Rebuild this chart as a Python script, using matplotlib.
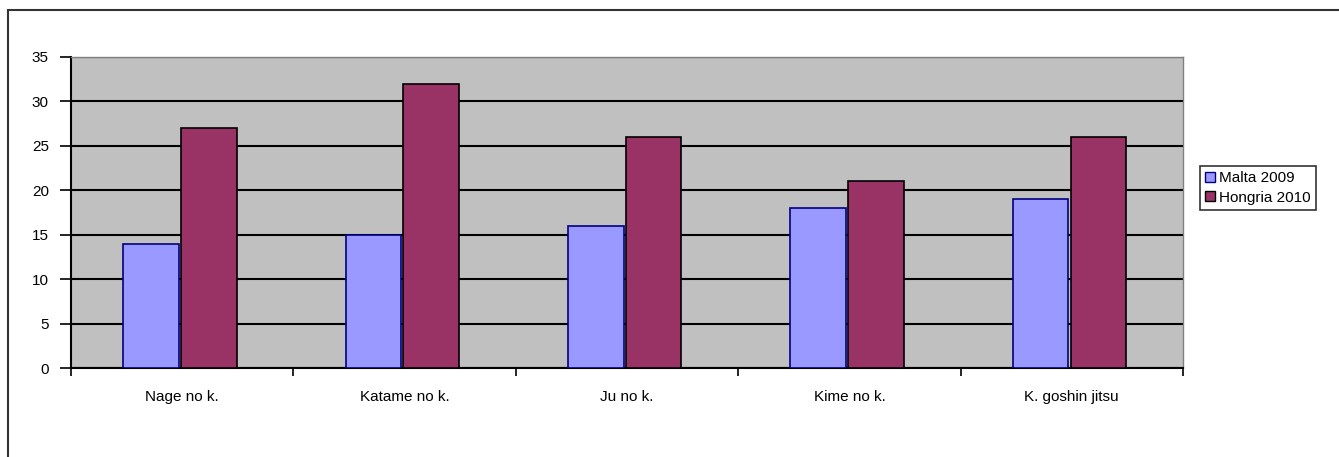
import matplotlib
matplotlib.use("Agg")
import matplotlib.pyplot as plt
import numpy as np
from matplotlib.patches import Rectangle, Patch

categories = ["Nage no k.", "Katame no k.", "Ju no k.", "Kime no k.", "K. goshin jitsu"]
malta_2009 = [14, 15, 16, 18, 19]
hongria_2010 = [27, 32, 26, 21, 26]
series_names = ["Malta 2009", "Hongria 2010"]
y_ticks = [0, 5, 10, 15, 20, 25, 30, 35]

plt.rcParams['font.family'] = ['Liberation Sans', 'DejaVu Sans']

fig = plt.figure(figsize=(13.39, 4.57), dpi=100)
fig.patch.set_facecolor('white')
# outer chart border
fig.patches.append(Rectangle((8/1339, -0.05), 1.2, 1 - 10/457 + 0.05,
                             transform=fig.transFigure, fill=False,
                             edgecolor='#333333', linewidth=1.5, zorder=0))

ax = fig.add_axes([71/1339, 1 - 368/457, (1183 - 71)/1339, (368 - 57)/457])
ax.set_facecolor('#C0C0C0')

x = np.arange(len(categories))
w = 0.25
ax.bar(x - 0.14, malta_2009, width=w, color='#9999FF', edgecolor='#000080',
       linewidth=1.2, zorder=3, label=series_names[0])
ax.bar(x + 0.12, hongria_2010, width=w, color='#993366', edgecolor='#000000',
       linewidth=1.2, zorder=3, label=series_names[1])

ax.set_xlim(-0.5, len(categories) - 0.5)
ax.set_ylim(0, 35)
ax.set_yticks(y_ticks)
ax.yaxis.grid(True, color='black', linewidth=1.5, zorder=1)
ax.set_axisbelow(True)

ax.set_xticks(x)
ax.set_xticklabels(categories, fontsize=11)
ax.tick_params(axis='x', which='major', length=0, pad=16)
ax.set_xticks(np.arange(-0.5, len(categories), 1.0), minor=True)
ax.tick_params(axis='x', which='minor', length=6, width=1.2, direction='out')
ax.tick_params(axis='y', length=8, width=1.2, direction='out', labelsize=11, pad=8)

for s in ['top', 'right']:
    ax.spines[s].set_color('#808080')
    ax.spines[s].set_linewidth(1.0)
for s in ['left', 'bottom']:
    ax.spines[s].set_color('black')
    ax.spines[s].set_linewidth(1.5)

handles = [Patch(facecolor='#9999FF', edgecolor='#000080'),
           Patch(facecolor='#993366', edgecolor='#000000')]
leg = fig.legend(handles, series_names, loc='upper left',
                 bbox_to_anchor=(1200/1339, 1 - 166/457), fontsize=11,
                 frameon=True, fancybox=False, edgecolor='black',
                 handlelength=0.6, handleheight=0.6, handletextpad=0.3,
                 borderpad=0.35, labelspacing=0.35, borderaxespad=0)
leg.get_frame().set_linewidth(1.2)

fig.savefig("out.png", dpi=100)
